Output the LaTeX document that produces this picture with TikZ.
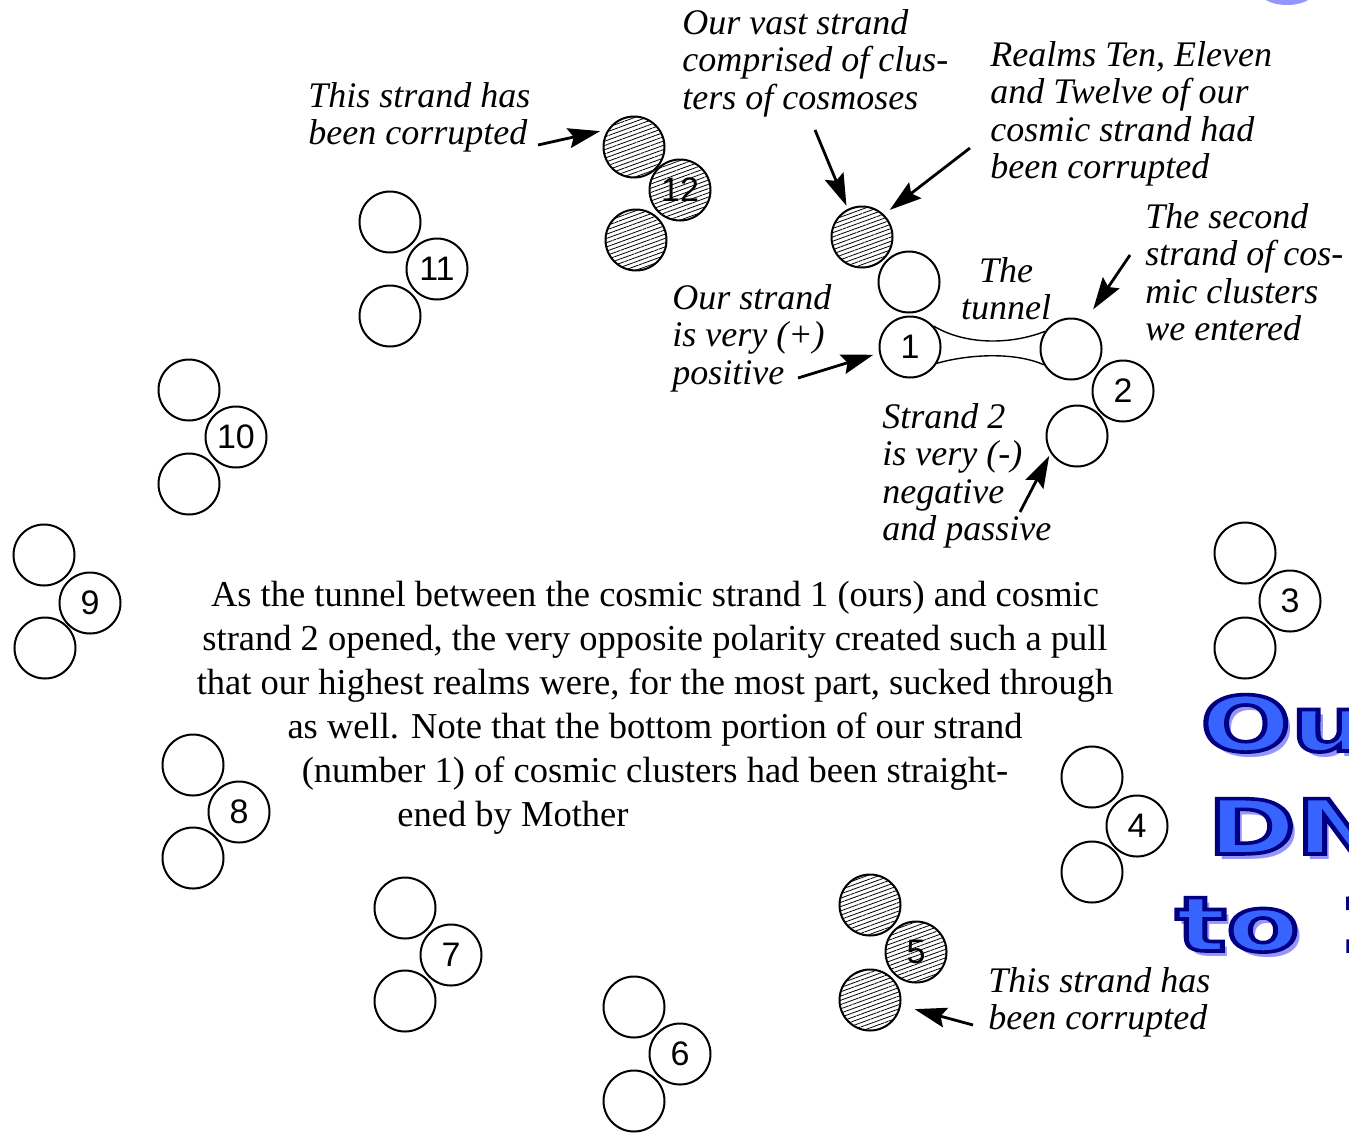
\documentclass[tikz,border=0pt]{standalone}
\usepackage{fontspec}
\setmainfont{Liberation Serif}
\newfontfamily\numfont{Liberation Sans}
\newfontfamily\bigfont{DejaVu Sans}
\usetikzlibrary{arrows.meta,patterns.meta}
\definecolor{bluefill}{RGB}{55,100,255}
\definecolor{blueline}{RGB}{0,0,130}
\definecolor{blueshade}{RGB}{150,150,250}
% fill in blue, stroke in dark blue
\newcommand\outlined[1]{\textcolor{bluefill}{\special{pdf:literal direct 2 Tr 1.8 w 0 0 0.51 RG}#1\special{pdf:literal direct 0 Tr}}}
\tikzset{
  ball/.style={circle, draw, line width=1pt, minimum size=30.5pt, inner sep=0pt},
  bad/.style={ball, pattern={Lines[angle=20,distance=2pt,line width=0.4pt]}},
  num/.style={ball, font=\numfont\fontsize{17}{17}\selectfont},
  note/.style={font=\itshape\fontsize{18}{18.75}\selectfont, align=left, inner sep=0pt, anchor=north west},
  para/.style={font=\fontsize{18.25}{22}\selectfont, align=center, inner sep=0pt},
  arr/.style={-{Stealth[length=16pt,width=10pt,inset=2.5pt]}, line width=1.4pt},
  big/.style={font=\bigfont\bfseries\fontsize{38}{38}\selectfont, inner sep=0pt, anchor=base west, xscale=1.4},
}
\begin{document}
\begin{tikzpicture}[x=0.5pt,y=-0.5pt]
\useasboundingbox (0,0) rectangle (1349,1136);
% strand 1 and strand 2
\node[bad] (c1h) at (862,237) {};
\node[ball] (c1m) at (909,282) {};
\node[num] (c1) at (910,347) {1};
\node[ball] (c2a) at (1071,349) {};
\node[num] (c2) at (1123,391) {2};
\node[ball] (c2b) at (1077,436) {};
\draw[line width=0.7pt] (c1.42) .. controls (965,345) and (1010,345) .. (c2a.146);
\draw[line width=0.7pt] (c1.329) .. controls (970,354) and (1015,352) .. (c2a.210);
% the other strands
\node[ball] (c3a) at (1245,553) {};
\node[num] (c3) at (1290,601) {3};
\node[ball] (c3b) at (1245,648) {};
\node[ball] (c4a) at (1092,777) {};
\node[num] (c4) at (1137,826) {4};
\node[ball] (c4b) at (1092,872) {};
\node[bad] (c5a) at (870,905) {};
\node[num, bad] (c5) at (916,952) {5};
\node[bad] (c5b) at (870,1000) {};
\node[ball] (c6a) at (634,1007) {};
\node[num] (c6) at (680,1054) {6};
\node[ball] (c6b) at (634,1101) {};
\node[ball] (c7a) at (405,908) {};
\node[num] (c7) at (451,955) {7};
\node[ball] (c7b) at (405,1001) {};
\node[ball] (c8a) at (193,765) {};
\node[num] (c8) at (239,812) {8};
\node[ball] (c8b) at (193,858) {};
\node[ball] (c9a) at (44,555) {};
\node[num] (c9) at (90,603) {9};
\node[ball] (c9b) at (45,648) {};
\node[ball] (c10a) at (189,390) {};
\node[num] (c10) at (236,437) {10};
\node[ball] (c10b) at (189,484) {};
\node[ball] (c11a) at (390,222) {};
\node[num] (c11) at (437,269) {11};
\node[ball] (c11b) at (390,316) {};
\node[bad] (c12a) at (634,147) {};
\node[num, bad] (c12) at (680,190) {12};
\node[bad] (c12b) at (636,240) {};
% notes
\node[note] (note12) at (308,82) {This strand has\\been corrupted};
\node[note] (notevast) at (682,9) {Our vast strand\\comprised of clus-\\ters of cosmoses};
\node[note] (noterealms) at (990,41) {Realms Ten, Eleven\\and Twelve of our\\cosmic strand had\\been corrupted};
\node[note, align=center, anchor=north] (tunnel) at (1006,257) {The\\tunnel};
\node[note] (notesecond) at (1145,203) {The second\\strand of cos-\\mic clusters\\we entered};
\node[note] (noteours) at (672,284) {Our strand\\is very (+)\\positive};
\node[note] (notestrand2) at (882,403) {Strand 2\\is very (-)\\negative\\and passive};
\node[note] (note5) at (988,967) {This strand has\\been corrupted};
\coordinate (from12) at (538,145);
\coordinate (fromvast) at (815,130);
\coordinate (fromrealms) at (970,148);
\coordinate (fromsecond) at (1130,255);
\coordinate (fromours) at (798,378);
\coordinate (fromstrand2) at (1020,512);
\coordinate (from5) at (973,1025);
\draw[arr, shorten >=4pt] (from12) -- (c12a.146);
\draw[arr, shorten >=2pt] (fromvast) -- (c1h.117);
\draw[arr, shorten >=4pt] (fromrealms) -- (c1h.46);
\draw[arr, shorten >=7pt] (fromsecond) -- (c2a.63);
\draw[arr, shorten >=3pt] (fromours) -- (c1.191);
\draw[arr, shorten >=1.5pt] (fromstrand2) -- (c2b.213);
\draw[arr, shorten >=7pt] (from5) -- (c5b.350);
% paragraph
\node[para, anchor=north] (story) at (655,581) {As the tunnel between the cosmic strand 1 (ours) and cosmic\\strand 2 opened, the very opposite polarity created such a pull\\that our highest realms were, for the most part, sucked through\\as well. Note that the bottom portion of our strand\\(number 1) of cosmic clusters had been straight-};
\node[para, anchor=north west] (storyend) at (397,801) {ened by Mother};
% title in blue, cut at the edge
\fill[blueshade] (1287,-6) ellipse (25 and 11);
\node[big, blueshade] (oushade) at (1205,756) {Ou};
\node[big] (ou) at (1200,751) {\outlined{Ou}};
\node[big, blueshade] (dnshade) at (1212,859) {DN};
\node[big] (dn) at (1207,854) {\outlined{DN}};
\node[big, blueshade] (toshade) at (1180,956) {to 1};
\node[big] (to) at (1175,951) {\outlined{to 1}};
\end{tikzpicture}
\end{document}
